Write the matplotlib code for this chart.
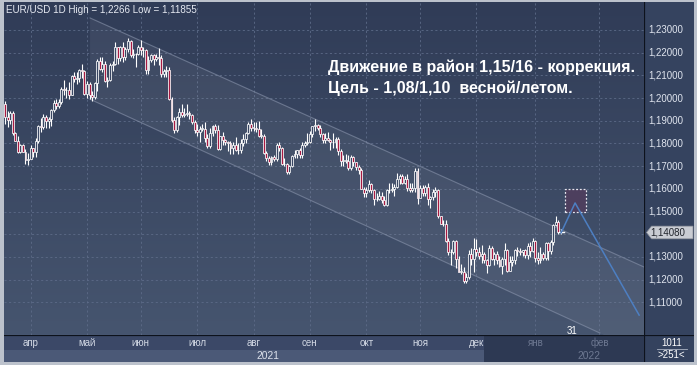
import numpy as np
import matplotlib
matplotlib.use('Agg')
import matplotlib.pyplot as plt
from matplotlib.patches import Rectangle, Polygon
from matplotlib.colors import LinearSegmentedColormap

plt.rcParams['font.family'] = ['Liberation Sans', 'DejaVu Sans']

# EUR/USD daily candles, 18.03.2021 - 17.01.2022
first_open = 1.1975
highs = [1.1989, 1.1943, 1.1942, 1.1942, 1.1851, 1.1833, 1.1797, 1.1799, 1.1775, 1.1760,
         1.1793, 1.1780, 1.1826, 1.1880, 1.1914, 1.1928, 1.1926, 1.1917, 1.1951, 1.1990,
         1.1994, 1.1995, 1.2048, 1.2079, 1.2048, 1.2070, 1.2100, 1.2117, 1.2115, 1.2130,
         1.2150, 1.2125, 1.2075, 1.2070, 1.2030, 1.2070, 1.2173, 1.2180, 1.2180, 1.2165,
         1.2095, 1.2155, 1.2165, 1.2245, 1.2225, 1.2230, 1.2245, 1.2225, 1.2266, 1.2255,
         1.2215, 1.2200, 1.2235, 1.2255, 1.2225, 1.2215, 1.2185, 1.2195, 1.2195, 1.2195,
         1.2220, 1.2190, 1.2130, 1.2140, 1.2135, 1.2005, 1.1915, 1.1920, 1.1955, 1.1975,
         1.1955, 1.1975, 1.1945, 1.1930, 1.1905, 1.1885, 1.1875, 1.1885, 1.1895, 1.1840,
         1.1870, 1.1880, 1.1885, 1.1880, 1.1835, 1.1850, 1.1820, 1.1810, 1.1810, 1.1805,
         1.1830, 1.1800, 1.1820, 1.1840, 1.1850, 1.1895, 1.1909, 1.1895, 1.1895, 1.1900,
         1.1865, 1.1840, 1.1765, 1.1745, 1.1745, 1.1750, 1.1800, 1.1805, 1.1785, 1.1735,
         1.1715, 1.1705, 1.1750, 1.1770, 1.1770, 1.1780, 1.1805, 1.1810, 1.1845, 1.1855,
         1.1875, 1.1909, 1.1885, 1.1880, 1.1845, 1.1845, 1.1850, 1.1820, 1.1845, 1.1830,
         1.1830, 1.1775, 1.1750, 1.1755, 1.1750, 1.1750, 1.1745, 1.1720, 1.1705, 1.1690,
         1.1610, 1.1610, 1.1640, 1.1625, 1.1600, 1.1580, 1.1590, 1.1585, 1.1570, 1.1600,
         1.1625, 1.1625, 1.1620, 1.1670, 1.1665, 1.1665, 1.1655, 1.1665, 1.1625, 1.1625,
         1.1692, 1.1690, 1.1615, 1.1615, 1.1615, 1.1625, 1.1570, 1.1600, 1.1610, 1.1600,
         1.1480, 1.1465, 1.1465, 1.1385, 1.1335, 1.1375, 1.1375, 1.1305, 1.1270, 1.1255,
         1.1230, 1.1330, 1.1340, 1.1385, 1.1380, 1.1345, 1.1355, 1.1320, 1.1290, 1.1355,
         1.1350, 1.1320, 1.1325, 1.1305, 1.1300, 1.1360, 1.1335, 1.1305, 1.1305, 1.1335,
         1.1345, 1.1340, 1.1330, 1.1335, 1.1360, 1.1365, 1.1385, 1.1375, 1.1320, 1.1345,
         1.1320, 1.1365, 1.1365, 1.1375, 1.1445, 1.1482, 1.1465, 1.1425]
lows = [1.1884, 1.1873, 1.1885, 1.1836, 1.1810, 1.1760, 1.1760, 1.1761, 1.1711, 1.1704,
        1.1730, 1.1742, 1.1740, 1.1800, 1.1850, 1.1865, 1.1870, 1.1870, 1.1875, 1.1940,
        1.1950, 1.1955, 1.1975, 1.2015, 1.2000, 1.1995, 1.2015, 1.2070, 1.2060, 1.2070,
        1.2090, 1.2015, 1.2000, 1.1995, 1.1986, 1.1995, 1.2030, 1.2125, 1.2115, 1.2070,
        1.2050, 1.2075, 1.2120, 1.2145, 1.2150, 1.2165, 1.2160, 1.2170, 1.2205, 1.2180,
        1.2175, 1.2135, 1.2190, 1.2190, 1.2180, 1.2105, 1.2105, 1.2160, 1.2145, 1.2165,
        1.2145, 1.2095, 1.2095, 1.2095, 1.1990, 1.1895, 1.1847, 1.1850, 1.1880, 1.1915,
        1.1915, 1.1920, 1.1910, 1.1885, 1.1845, 1.1835, 1.1807, 1.1855, 1.1805, 1.1780,
        1.1780, 1.1835, 1.1845, 1.1770, 1.1772, 1.1795, 1.1795, 1.1765, 1.1755, 1.1752,
        1.1765, 1.1755, 1.1760, 1.1790, 1.1800, 1.1840, 1.1855, 1.1855, 1.1850, 1.1830,
        1.1825, 1.1755, 1.1725, 1.1705, 1.1705, 1.1725, 1.1725, 1.1765, 1.1705, 1.1700,
        1.1665, 1.1664, 1.1695, 1.1735, 1.1735, 1.1735, 1.1735, 1.1785, 1.1795, 1.1800,
        1.1830, 1.1855, 1.1860, 1.1830, 1.1800, 1.1800, 1.1810, 1.1770, 1.1780, 1.1780,
        1.1750, 1.1700, 1.1700, 1.1715, 1.1685, 1.1685, 1.1700, 1.1685, 1.1665, 1.1600,
        1.1565, 1.1565, 1.1585, 1.1580, 1.1530, 1.1545, 1.1550, 1.1540, 1.1524, 1.1525,
        1.1580, 1.1585, 1.1570, 1.1605, 1.1620, 1.1620, 1.1620, 1.1590, 1.1585, 1.1585,
        1.1585, 1.1535, 1.1565, 1.1570, 1.1570, 1.1530, 1.1515, 1.1550, 1.1565, 1.1470,
        1.1445, 1.1435, 1.1365, 1.1310, 1.1265, 1.1315, 1.1250, 1.1235, 1.1225, 1.1186,
        1.1185, 1.1205, 1.1265, 1.1235, 1.1305, 1.1290, 1.1275, 1.1275, 1.1230, 1.1260,
        1.1285, 1.1265, 1.1270, 1.1255, 1.1225, 1.1265, 1.1235, 1.1240, 1.1260, 1.1270,
        1.1305, 1.1310, 1.1305, 1.1295, 1.1290, 1.1300, 1.1320, 1.1280, 1.1270, 1.1275,
        1.1285, 1.1285, 1.1285, 1.1315, 1.1355, 1.1435, 1.1400, 1.1400]
closes = [1.1915, 1.1905, 1.1936, 1.1845, 1.1813, 1.1763, 1.1794, 1.1763, 1.1729, 1.1730,
          1.1778, 1.1762, 1.1813, 1.1875, 1.1872, 1.1915, 1.1900, 1.1910, 1.1947, 1.1980,
          1.1965, 1.1983, 1.2038, 1.2035, 1.2034, 1.2014, 1.2097, 1.2083, 1.2090, 1.2125,
          1.2120, 1.2020, 1.2062, 1.2014, 1.2005, 1.2065, 1.2165, 1.2130, 1.2150, 1.2075,
          1.2080, 1.2145, 1.2150, 1.2224, 1.2175, 1.2225, 1.2180, 1.2215, 1.2250, 1.2192,
          1.2195, 1.2195, 1.2225, 1.2210, 1.2213, 1.2125, 1.2166, 1.2190, 1.2172, 1.2180,
          1.2175, 1.2105, 1.2120, 1.2125, 1.1995, 1.1905, 1.1860, 1.1915, 1.1940, 1.1925,
          1.1930, 1.1935, 1.1925, 1.1895, 1.1858, 1.1850, 1.1865, 1.1865, 1.1825, 1.1790,
          1.1845, 1.1875, 1.1860, 1.1775, 1.1835, 1.1815, 1.1805, 1.1800, 1.1780, 1.1795,
          1.1770, 1.1770, 1.1800, 1.1820, 1.1845, 1.1885, 1.1870, 1.1870, 1.1865, 1.1835,
          1.1835, 1.1760, 1.1735, 1.1720, 1.1740, 1.1730, 1.1795, 1.1780, 1.1710, 1.1710,
          1.1675, 1.1700, 1.1745, 1.1755, 1.1770, 1.1750, 1.1795, 1.1800, 1.1808, 1.1840,
          1.1875, 1.1880, 1.1870, 1.1840, 1.1815, 1.1825, 1.1815, 1.1805, 1.1805, 1.1820,
          1.1765, 1.1725, 1.1725, 1.1725, 1.1690, 1.1740, 1.1720, 1.1695, 1.1685, 1.1600,
          1.1580, 1.1595, 1.1620, 1.1595, 1.1555, 1.1555, 1.1570, 1.1550, 1.1530, 1.1595,
          1.1595, 1.1600, 1.1610, 1.1645, 1.1655, 1.1625, 1.1645, 1.1605, 1.1595, 1.1605,
          1.1680, 1.1560, 1.1605, 1.1580, 1.1610, 1.1555, 1.1565, 1.1585, 1.1595, 1.1480,
          1.1445, 1.1445, 1.1370, 1.1320, 1.1320, 1.1370, 1.1290, 1.1235, 1.1235, 1.1195,
          1.1210, 1.1315, 1.1290, 1.1335, 1.1320, 1.1305, 1.1315, 1.1285, 1.1265, 1.1340,
          1.1290, 1.1315, 1.1285, 1.1260, 1.1290, 1.1330, 1.1240, 1.1280, 1.1285, 1.1330,
          1.1325, 1.1320, 1.1330, 1.1310, 1.1350, 1.1325, 1.1370, 1.1295, 1.1285, 1.1315,
          1.1295, 1.1360, 1.1325, 1.1365, 1.1440, 1.1455, 1.1410, 1.1408]

price_ticks = [1.11, 1.12, 1.13, 1.14, 1.15, 1.16, 1.17, 1.18, 1.19, 1.20, 1.21, 1.22, 1.23]
month_labels = ['апр', 'май', 'июн', 'июл', 'авг', 'сен', 'окт', 'ноя', 'дек', 'янв', 'фев']
month_pos = [10, 32, 53, 75, 97, 119, 141, 162, 184, 207, 232]
last_price = 1.14080

# channel and forecast drawn on the chart
chan_top = [(33.2, 1.2353), (249.4, 1.1256)]
chan_bot = [(33.2, 1.1995), (232.2, 1.0965)]
target_box = (218.6, 226.8, 1.15, 1.16)
path_x = [217.0, 222.5, 247.5]
path_y = [1.1406, 1.1538, 1.1044]

W, H = 697, 365
fig = plt.figure(figsize=(W / 100, H / 100), dpi=100)
fig.patch.set_facecolor('#bcc2cc')

def fx(px):
    return px / W

def fy(py):
    return 1 - py / H

xl = (-0.39, 249.4)
yl = (1.09564, 1.24233)

ax = fig.add_axes([fx(4), fy(335), fx(640), 333 / H])
grad = np.linspace(0, 1, 256).reshape(-1, 1)
cm_bg = LinearSegmentedColormap.from_list('bg', ['#46556f', '#303c57'])
ax.imshow(grad, extent=[xl[0], xl[1], yl[0], yl[1]], aspect='auto', cmap=cm_bg,
          zorder=0, origin='lower')
ax.set_xlim(*xl)
ax.set_ylim(*yl)
for s in ax.spines.values():
    s.set_visible(False)
ax.set_xticks([])
ax.set_yticks([])

# grid
for p in price_ticks:
    ax.axhline(p, color='#5d6b88', lw=0.6, ls=(0, (2.5, 3)), zorder=1)
for m in month_pos:
    ax.axvline(m, color='#5d6b88', lw=0.6, ls=(0, (2.5, 3)), zorder=1)

# channel
(x0, y0), (x1, y1) = chan_top
(bx0, by0), (bx1, by1) = chan_bot
xs = np.array([x0, x1])
top_line = y0 + (y1 - y0) * (xs - x0) / (x1 - x0)
bot_line = by0 + (by1 - by0) * (xs - bx0) / (bx1 - bx0)
ax.add_patch(Polygon([(x0, top_line[0]), (x1, top_line[1]), (x1, bot_line[1]), (x0, bot_line[0])],
                     closed=True, facecolor='white', alpha=0.055, edgecolor='none', zorder=1))
ax.plot(xs, top_line, color='#8a95ad', lw=0.8, alpha=0.6, zorder=2)
ax.plot([bx0, bx1], [by0, by1], color='#8a95ad', lw=0.8, alpha=0.6, zorder=2)

# candles
c = np.array(closes)
o = np.array([first_open] + closes[:-1])
h = np.array(highs)
l = np.array(lows)
idx = np.arange(len(c))
up = c >= o
ax.vlines(idx, l, h, color='white', lw=0.8, zorder=3)
body = np.maximum(np.abs(c - o), 0.00012)
bottom = np.minimum(o, c)
ax.bar(idx[up], body[up], bottom=bottom[up], width=0.75, facecolor='#3a4764',
       edgecolor='white', lw=0.55, zorder=4)
ax.bar(idx[~up], body[~up], bottom=bottom[~up], width=0.75, facecolor='#a81a42',
       edgecolor='white', lw=0.55, zorder=4)
ax.plot([idx[-1] - 0.6, idx[-1] + 1.2], [last_price, last_price], color='white', lw=1.0, zorder=5)

# forecast box and path
bx_l, bx_r, bp_l, bp_h = target_box
ax.add_patch(Rectangle((bx_l, bp_l), bx_r - bx_l, bp_h - bp_l, facecolor='#4d3f5e',
                       edgecolor='#e6e6ee', lw=0.9, ls=(0, (1.5, 1.5)), zorder=5))
ax.plot(path_x, path_y, color='#4d7fc2', lw=1.1, zorder=6)

ax.text(221.3, 1.0975, '31', color='white', fontsize=7, ha='center', va='center', zorder=6)

ax.text(0.4, 1.2387, 'EUR/USD 1D High = 1,2266 Low = 1,11855', color='#e6eaf2', fontsize=7.1,
        ha='left', va='center', zorder=6)
ax.text(126.0, 1.2090, 'Движение в район 1,15/16 - коррекция.\nЦель - 1,08/1,10  весной/летом.',
        color='white', fontsize=11.5, fontweight='bold', ha='left', va='center',
        linespacing=1.5, zorder=6)

# right price scale
axr = fig.add_axes([fx(644), fy(335), fx(50), 333 / H])
axr.set_xlim(0, 1)
axr.set_ylim(*yl)
axr.set_facecolor('#35435f')
axr.set_xticks([])
axr.set_yticks([])
for s in axr.spines.values():
    s.set_visible(False)
axr.axvline(0, color='#0d121c', lw=1.6)
for p in price_ticks:
    if p == 1.14:
        continue
    axr.text(0.09, p, ('%.5f' % p).replace('.', ','), color='#dfe4ee', fontsize=7,
             ha='left', va='center')
hh = 0.0028
axr.add_patch(Polygon([(0.05, last_price), (0.15, last_price + hh), (0.98, last_price + hh),
                       (0.98, last_price - hh), (0.15, last_price - hh)],
                      closed=True, facecolor='#c9ccd3', edgecolor='#8a8f99', lw=0.5, zorder=3))
axr.text(0.12, last_price, ('%.5f' % last_price).replace('.', ','), color='#20242c', fontsize=7,
         ha='left', va='center', zorder=4)

# bottom time scale
axt = fig.add_axes([fx(4), fy(362), fx(640), 27 / H])
axt.set_xlim(*xl)
axt.set_ylim(0, 1)
axt.set_xticks([])
axt.set_yticks([])
for s in axt.spines.values():
    s.set_visible(False)
axt.set_facecolor('#3b4867')
axt.axhspan(0, 0.45, color='#4b5977', lw=0)
fut = (484 - 5) / 2.562
axt.add_patch(Rectangle((fut, 0), xl[1] - fut, 1, facecolor='#2d3953', edgecolor='none', zorder=2))
axt.axhline(1, color='#0d121c', lw=1.6, zorder=3)
for lab, m in zip(month_labels, month_pos):
    col = '#6d7891' if m > fut else '#d2d8e4'
    axt.text(m, 0.7, lab, color=col, fontsize=7, ha='center', va='center', zorder=4)
axt.text(102.5, 0.23, '2021', color='#dde2ec', fontsize=7.4, ha='center', va='center', zorder=4)
axt.text(228, 0.23, '2022', color='#6d7891', fontsize=7.4, ha='center', va='center', zorder=4)

# corner box
axc = fig.add_axes([fx(644), fy(362), fx(50), 27 / H])
axc.set_xlim(0, 1)
axc.set_ylim(0, 1)
axc.set_xticks([])
axc.set_yticks([])
for s in axc.spines.values():
    s.set_visible(False)
axc.set_facecolor('#34425e')
axc.axvline(0, color='#0d121c', lw=1.6)
axc.axhline(1, color='#0d121c', lw=1.6)
axc.text(0.55, 0.72, '1011', color='white', fontsize=7, ha='center', va='center')
axc.plot([0.25, 0.85], [0.5, 0.5], color='#aab2c2', lw=0.6)
axc.text(0.55, 0.25, '>251<', color='white', fontsize=7, ha='center', va='center')

fig.savefig('out.png', dpi=100, facecolor=fig.get_facecolor())
